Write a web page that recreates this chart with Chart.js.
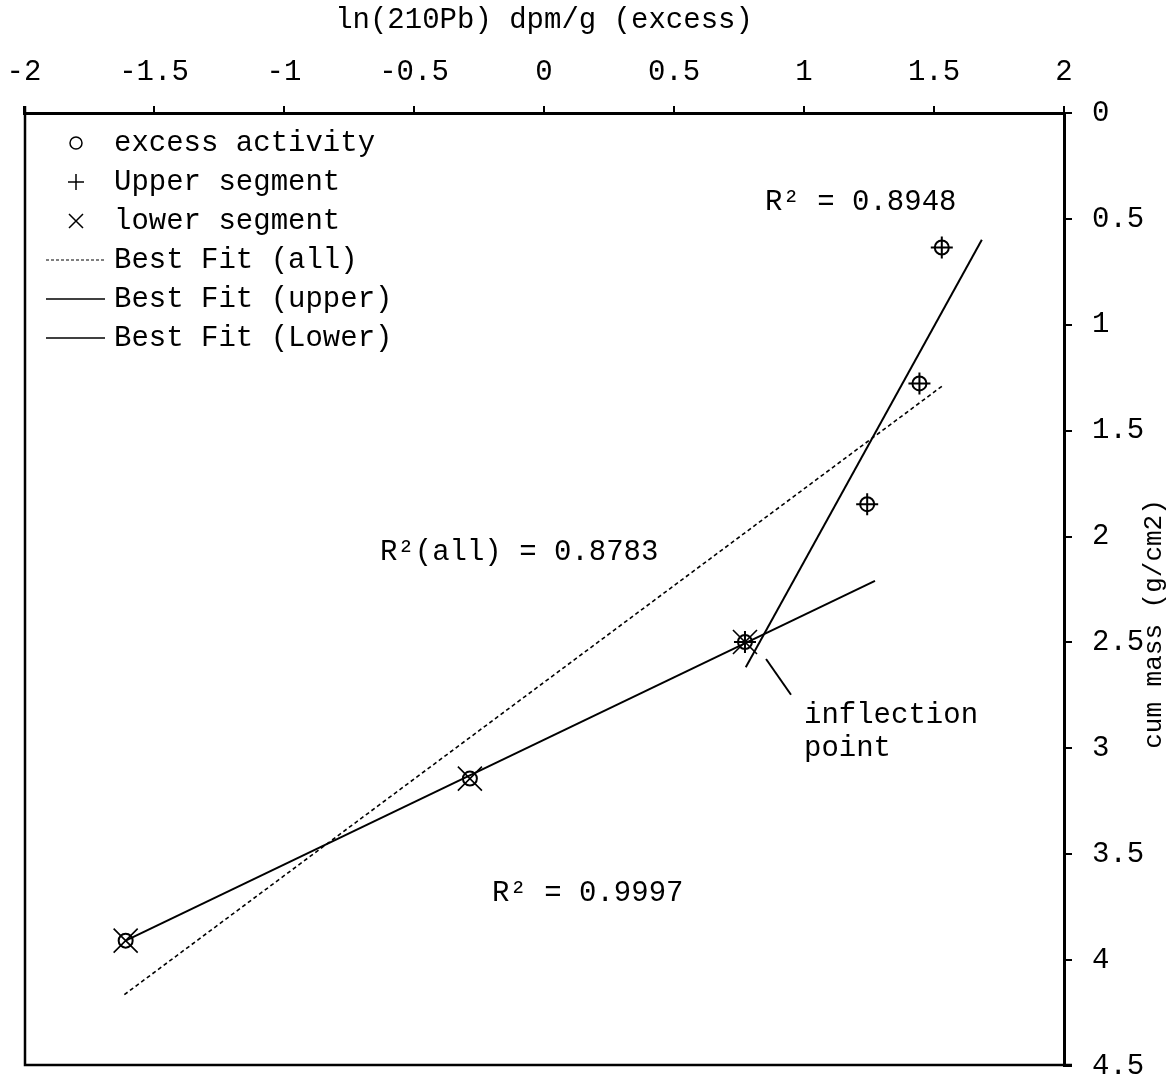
<!DOCTYPE html>
<html>
<head>
<meta charset="utf-8">
<script src="https://cdn.jsdelivr.net/npm/chart.js@4/dist/chart.umd.min.js"></script>
<style>
  html, body { margin: 0; padding: 0; background: #fff; }
  #wrap { width: 1175px; height: 1083px; position: relative; }
</style>
</head>
<body>
<div id="wrap"><canvas id="c"></canvas></div>
<script>
// Core samples: ln of excess 210Pb activity vs cumulative mass
const lnExcess = [1.530, 1.444, 1.243, 0.773, -0.285, -1.609];
const cumMass  = [0.635, 1.277, 1.847, 2.498, 3.143, 3.908];
const upperIdx = [0, 1, 2, 3];
const lowerIdx = [3, 4, 5];

// Regression line end points
const fitAllX   = [-1.614, 1.534];
const fitAllY   = [4.163, 1.287];
const fitUpperX = [0.776, 1.684];
const fitUpperY = [2.617, 0.598];
const fitLowerX = [-1.609, 1.273];
const fitLowerY = [3.908, 2.209];

// Leader line for the inflection note
const pointerX = [0.854, 0.950];
const pointerY = [2.578, 2.747];

// Axis ticks
const xTicks = [-2, -1.5, -1, -0.5, 0, 0.5, 1, 1.5, 2];
const yTicks = [0, 0.5, 1, 1.5, 2, 2.5, 3, 3.5, 4, 4.5];

// Notes placed in data space
const noteText = ['R\u00b2 = 0.8948', 'R\u00b2(all) = 0.8783', 'R\u00b2 = 0.9997', 'inflection', 'point'];
const noteX = [0.85, -0.631, -0.2, 1.0, 1.0];
const noteY = [0.424, 2.074, 3.685, 2.846, 3.002];

const legendText = ['excess activity', 'Upper segment', 'lower segment',
                    'Best Fit (all)', 'Best Fit (upper)', 'Best Fit (Lower)'];

const FONT = '"Liberation Mono", "Courier New", monospace';
const pts = (xs, ys, idx) => (idx || xs.map((_, i) => i)).map(i => ({ x: xs[i], y: ys[i] }));

const frameAndNotes = {
  id: 'frameAndNotes',
  afterDraw(chart) {
    const { ctx, chartArea: a, scales } = chart;
    const xs = scales.x, ys = scales.y;
    ctx.save();
    // left and bottom sides of the plot frame
    ctx.strokeStyle = '#000';
    ctx.lineWidth = 2.5;
    ctx.beginPath();
    ctx.moveTo(a.left + 1, a.top - 7);
    ctx.lineTo(a.left + 1, a.bottom - 1);
    ctx.lineTo(a.right + 8, a.bottom - 1);
    ctx.stroke();

    // notes
    ctx.fillStyle = '#000';
    ctx.font = '29px ' + FONT;
    ctx.textAlign = 'left';
    ctx.textBaseline = 'middle';
    noteText.forEach((t, i) => {
      ctx.fillText(t, xs.getPixelForValue(noteX[i]), ys.getPixelForValue(noteY[i]));
    });

    // legend
    const lx = a.left + 52, tx = a.left + 90, rowY = a.top + 30, gap = 39;
    legendText.forEach((t, i) => {
      ctx.fillText(t, tx, rowY + i * gap);
    });
    ctx.lineWidth = 1.5;
    let y = rowY;
    ctx.beginPath(); ctx.arc(lx, y, 6, 0, Math.PI * 2); ctx.stroke();
    y = rowY + gap;
    ctx.beginPath(); ctx.moveTo(lx - 8, y); ctx.lineTo(lx + 8, y);
    ctx.moveTo(lx, y - 8); ctx.lineTo(lx, y + 8); ctx.stroke();
    y = rowY + 2 * gap;
    ctx.beginPath(); ctx.moveTo(lx - 7, y - 7); ctx.lineTo(lx + 7, y + 7);
    ctx.moveTo(lx + 7, y - 7); ctx.lineTo(lx - 7, y + 7); ctx.stroke();
    const l0 = a.left + 22, l1 = a.left + 81;
    y = rowY + 3 * gap;
    ctx.setLineDash([3, 2]); ctx.lineWidth = 1.2;
    ctx.beginPath(); ctx.moveTo(l0, y); ctx.lineTo(l1, y); ctx.stroke();
    ctx.setLineDash([]); ctx.lineWidth = 1.6;
    for (let k = 4; k <= 5; k++) {
      y = rowY + k * gap;
      ctx.beginPath(); ctx.moveTo(l0, y); ctx.lineTo(l1, y); ctx.stroke();
    }

    // right-hand axis title, reading upward
    ctx.save();
    ctx.translate(a.right + 90, 624);
    ctx.rotate(-Math.PI / 2);
    ctx.textAlign = 'center';
    ctx.font = '26px ' + FONT;
    ctx.fillText('cum mass (g/cm2)', 0, 0);
    ctx.restore();
    ctx.restore();
  }
};

new Chart(document.getElementById('c'), {
  type: 'scatter',
  data: {
    datasets: [
      { label: 'Best Fit (all)', data: pts(fitAllX, fitAllY), showLine: true, pointRadius: 0,
        borderColor: '#000', borderWidth: 1.6, borderDash: [4, 3] },
      { label: 'Best Fit (upper)', data: pts(fitUpperX, fitUpperY), showLine: true, pointRadius: 0,
        borderColor: '#000', borderWidth: 2 },
      { label: 'Best Fit (Lower)', data: pts(fitLowerX, fitLowerY), showLine: true, pointRadius: 0,
        borderColor: '#000', borderWidth: 2 },
      { label: 'pointer', data: pts(pointerX, pointerY), showLine: true, pointRadius: 0,
        borderColor: '#000', borderWidth: 2 },
      { label: 'excess activity', data: pts(lnExcess, cumMass), showLine: false,
        pointStyle: 'circle', pointRadius: 7, pointBorderWidth: 2,
        pointBorderColor: '#000', pointBackgroundColor: 'rgba(0,0,0,0)' },
      { label: 'Upper segment', data: pts(lnExcess, cumMass, upperIdx), showLine: false,
        pointStyle: 'cross', pointRadius: 11, pointBorderWidth: 2, pointBorderColor: '#000' },
      { label: 'lower segment', data: pts(lnExcess, cumMass, lowerIdx), showLine: false,
        pointStyle: 'crossRot', pointRadius: 17, pointBorderWidth: 1.6, pointBorderColor: '#000' }
    ]
  },
  options: {
    responsive: true,
    maintainAspectRatio: false,
    animation: false,
    events: [],
    layout: { autoPadding: false, padding: { left: 24, right: 0, top: 0, bottom: 17 } },
    plugins: { legend: { display: false }, tooltip: { enabled: false } },
    scales: {
      x: {
        type: 'linear', position: 'top', min: -2, max: 2,
        afterBuildTicks: s => { s.ticks = xTicks.map(v => ({ value: v })); },
        afterFit: s => { s.height = 113; s.paddingLeft = 0; s.paddingRight = 0; },
        grid: { drawOnChartArea: false, drawTicks: true, tickLength: 7, color: '#000', lineWidth: 2 },
        border: { display: true, color: '#000', width: 3 },
        ticks: { color: '#000', font: { family: FONT, size: 29 }, padding: 16, maxRotation: 0,
                 callback: v => String(v) },
        title: { display: true, text: 'ln(210Pb) dpm/g (excess)', color: '#000',
                 font: { family: FONT, size: 29 }, padding: { top: 3, bottom: 0 } }
      },
      y: {
        type: 'linear', position: 'right', min: 0, max: 4.5, reverse: true,
        afterBuildTicks: s => { s.ticks = yTicks.map(v => ({ value: v })); },
        afterFit: s => { s.width = 111; s.paddingTop = 0; s.paddingBottom = 0; },
        grid: { drawOnChartArea: false, drawTicks: true, tickLength: 8, color: '#000', lineWidth: 2 },
        border: { display: true, color: '#000', width: 3 },
        ticks: { color: '#000', font: { family: FONT, size: 29 }, padding: 20,
                 callback: v => String(v) }
      }
    }
  },
  plugins: [frameAndNotes]
});
</script>
</body>
</html>
